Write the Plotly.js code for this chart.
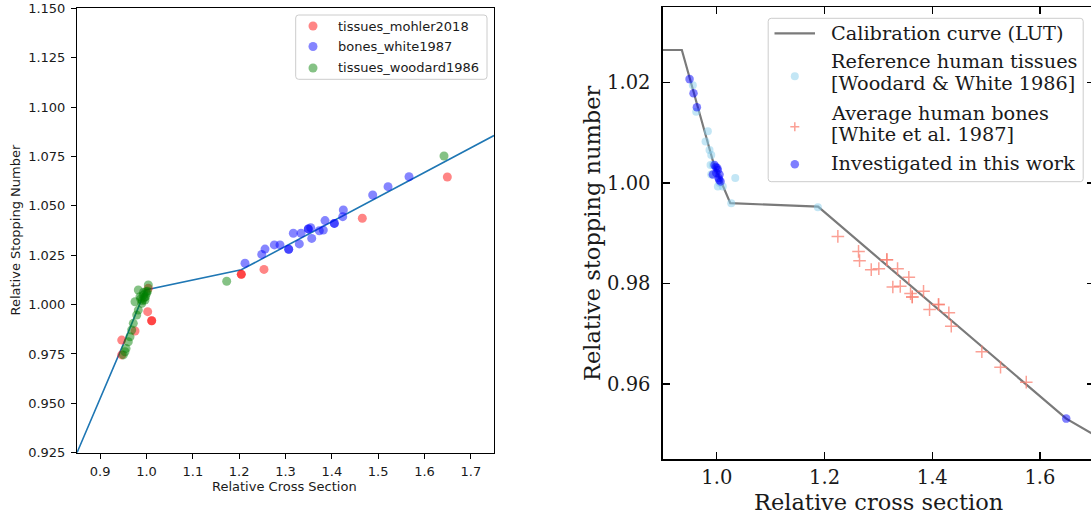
<!DOCTYPE html>
<html>
<head>
<meta charset="utf-8">
<script src="https://cdn.plot.ly/plotly-3.0.1.min.js"></script>
<style>
html,body{margin:0;padding:0;overflow:hidden;background:#fff;}
#chart{width:1096px;height:519px;}
</style>
</head>
<body>
<div id="chart"></div>
<script>
// ---------- Left panel data ----------
const leftCurveX = [0.85, 0.95, 0.998, 1.2046, 1.75];
const leftCurveY = [0.925, 0.980, 1.0074, 1.0176, 1.0856];

const mohlerX = [0.9465, 0.9465, 0.9752, 1.0026, 1.0112, 1.0112, 1.0039, 1.2046, 1.2046, 1.2536, 1.4658, 1.6493];
const mohlerY = [0.9820, 0.9745, 0.9866, 0.9964, 0.9918, 0.9918, 1.0082, 1.0153, 1.0153, 1.0178, 1.0437, 1.0646];

const whiteX = [1.2126, 1.2487, 1.2558, 1.2759, 1.2882, 1.3069, 1.3069, 1.3169, 1.3298, 1.3335, 1.3492, 1.3492, 1.3544, 1.3566, 1.3730, 1.3816, 1.3853, 1.4054, 1.4054, 1.4235, 1.4248, 1.4882, 1.5213, 1.5666];
const whiteY = [1.0209, 1.0254, 1.0281, 1.0302, 1.0302, 1.0280, 1.0280, 1.0361, 1.0307, 1.0361, 1.0383, 1.0383, 1.0389, 1.0335, 1.0374, 1.0377, 1.0425, 1.0411, 1.0411, 1.0445, 1.0479, 1.0555, 1.0597, 1.0647];

const woodardX = [1.0039, 0.9823, 0.9752, 0.9860, 0.9931, 0.9896, 0.9967, 1.0004, 0.9990, 0.9950, 0.9910, 0.9875, 0.9980, 1.0020, 0.9935, 0.9823, 0.9789, 0.9715, 0.9680, 0.9644, 0.9607, 0.9558, 0.9536, 0.9499, 1.1731, 1.6421];
const woodardY = [1.0099, 1.0074, 1.0014, 1.0040, 1.0048, 1.0006, 1.0023, 1.0057, 1.0065, 1.0035, 1.0020, 1.0028, 1.0040, 1.0068, 1.0062, 0.9972, 0.9947, 0.9905, 0.9871, 0.9837, 0.9812, 0.9778, 0.9761, 0.9745, 1.0118, 1.0752];

const leftXTicks = [0.9, 1.0, 1.1, 1.2, 1.3, 1.4, 1.5, 1.6, 1.7];
const leftYTicks = [0.925, 0.950, 0.975, 1.000, 1.025, 1.050, 1.075, 1.100, 1.125, 1.150];
const leftLegendNames = ['tissues_mohler2018', 'bones_white1987', 'tissues_woodard1986'];

// ---------- Right panel data ----------
const lutX = [0.90, 0.935, 0.995, 1.025, 1.188, 1.6488, 1.70];
const lutY = [1.0265, 1.0265, 1.0035, 0.9960, 0.9953, 0.9531, 0.9499];

const refTissueX = [0.9554, 0.9617, 0.9833, 0.9790, 0.9864, 0.9896, 0.9883, 0.9926, 0.9896, 1.0050, 1.0110, 1.0019, 1.0342, 1.0267, 1.1876];
const refTissueY = [1.0195, 1.0142, 1.0103, 1.0083, 1.0066, 1.0056, 1.0036, 1.0036, 1.0017, 1.0000, 0.9993, 0.9993, 1.0010, 0.9960, 0.9952];

const boneX = [1.2247, 1.2631, 1.2650, 1.2867, 1.3008, 1.3157, 1.3157, 1.3356, 1.3565, 1.3268, 1.3406, 1.3597, 1.3629, 1.3629, 1.3838, 1.4117, 1.4117, 1.3950, 1.4308, 1.4353, 1.4921, 1.5268, 1.5746];
const boneY = [0.98938, 0.98640, 0.98455, 0.98276, 0.98296, 0.98475, 0.98475, 0.98296, 0.98123, 0.97932, 0.97944, 0.97799, 0.97734, 0.97734, 0.97845, 0.97581, 0.97581, 0.97481, 0.97416, 0.97149, 0.96640, 0.96334, 0.96036];

const thisWorkX = [0.9493, 0.9567, 0.9629, 0.9957, 0.9989, 1.0032, 1.0069, 1.0007, 0.9926, 1.0050, 1.0019, 0.9980, 1.0045, 1.6488];
const thisWorkY = [1.0207, 1.0179, 1.0151, 1.0036, 1.0020, 1.0010, 1.0003, 1.0030, 1.0017, 1.0017, 1.0026, 1.0032, 1.0006, 0.9531];

const rightXTicks = [1.0, 1.2, 1.4, 1.6];
const rightYTicks = [0.96, 0.98, 1.00, 1.02];
const rightLegendLines = ['Calibration curve (LUT)', 'Reference human tissues', '[Woodard &amp; White 1986]',
                          'Average human bones', '[White et al. 1987]', 'Investigated in this work'];

// ---------- layout helpers (pixel -> paper) ----------
const W = 1096, H = 519;
const px = v => v / W;
const py = v => 1 - v / H;

const sans = "DejaVu Sans, sans-serif";
const serif = "DejaVu Serif, serif";

const cRed = 'rgba(255,0,0,0.48)', cBlue = 'rgba(0,0,255,0.48)', cGreen = 'rgba(0,128,0,0.48)';
const cSky = 'rgba(135,206,235,0.5)', cSalmon = 'rgba(250,128,114,0.75)', cBlue2 = 'rgba(0,0,255,0.5)';

const traces = [
  {x: leftCurveX, y: leftCurveY, type: 'scatter', mode: 'lines', xaxis: 'x', yaxis: 'y',
   line: {color: '#1f77b4', width: 1.6}, name: 'curve'},
  {x: mohlerX, y: mohlerY, type: 'scatter', mode: 'markers', name: leftLegendNames[0], xaxis: 'x', yaxis: 'y',
   marker: {color: cRed, size: 9, line: {width: 0}}},
  {x: whiteX, y: whiteY, type: 'scatter', mode: 'markers', name: leftLegendNames[1], xaxis: 'x', yaxis: 'y',
   marker: {color: cBlue, size: 9, line: {width: 0}}},
  {x: woodardX, y: woodardY, type: 'scatter', mode: 'markers', name: leftLegendNames[2], xaxis: 'x', yaxis: 'y',
   marker: {color: cGreen, size: 9, line: {width: 0}}},

  {x: lutX, y: lutY, type: 'scatter', mode: 'lines', name: 'Calibration curve (LUT)', xaxis: 'x2', yaxis: 'y2',
   line: {color: '#7a7a7a', width: 2.2}},
  {x: refTissueX, y: refTissueY, type: 'scatter', mode: 'markers', name: 'Reference human tissues', xaxis: 'x2', yaxis: 'y2',
   marker: {color: cSky, size: 8, line: {width: 0}}},
  {x: boneX, y: boneY, type: 'scatter', mode: 'markers', name: 'Average human bones', xaxis: 'x2', yaxis: 'y2',
   marker: {symbol: 'cross-thin', color: cSalmon, size: 9, line: {color: cSalmon, width: 1.5}}},
  {x: thisWorkX, y: thisWorkY, type: 'scatter', mode: 'markers', name: 'Investigated in this work', xaxis: 'x2', yaxis: 'y2',
   marker: {color: cBlue2, size: 8.5, line: {width: 0}}}
];

const leftAxis = {
  showgrid: false, zeroline: false, showline: true, linecolor: '#000', linewidth: 1, mirror: true,
  ticks: 'outside', ticklen: 5, tickwidth: 1, tickcolor: '#000',
  tickfont: {family: sans, size: 13, color: '#1a1a1a'}
};
const rightAxis = {
  showgrid: false, zeroline: false, showline: true, linecolor: '#000', linewidth: 1.6, mirror: 'ticks',
  ticks: 'inside', ticklen: 7, tickwidth: 1.3, tickcolor: '#000',
  tickfont: {family: serif, size: 19.5, color: '#1a1a1a'}
};

// ---------- legend drawing (in pixel space converted to paper) ----------
function roundRect(x0, y0, x1, y1, r) {
  const P = (a, b) => px(a) + ',' + py(b);
  return 'M' + P(x0 + r, y0) + ' L' + P(x1 - r, y0) + ' Q' + P(x1, y0) + ' ' + P(x1, y0 + r) +
    ' L' + P(x1, y1 - r) + ' Q' + P(x1, y1) + ' ' + P(x1 - r, y1) +
    ' L' + P(x0 + r, y1) + ' Q' + P(x0, y1) + ' ' + P(x0, y1 - r) +
    ' L' + P(x0, y0 + r) + ' Q' + P(x0, y0) + ' ' + P(x0 + r, y0) + ' Z';
}
function dot(cx, cy, d, color) {
  return {type: 'circle', xref: 'paper', yref: 'paper', layer: 'above',
    x0: px(cx - d / 2), x1: px(cx + d / 2), y0: py(cy + d / 2), y1: py(cy - d / 2),
    fillcolor: color, line: {width: 0}};
}
function plus(cx, cy, s, color) {
  const P = (a, b) => px(a) + ',' + py(b);
  return {type: 'path', xref: 'paper', yref: 'paper', layer: 'above',
    path: 'M' + P(cx - s, cy) + ' L' + P(cx + s, cy) + ' M' + P(cx, cy - s) + ' L' + P(cx, cy + s),
    line: {color: color, width: 1.5}};
}
function label(text, x, y, font) {
  return {text: text, xref: 'paper', yref: 'paper', x: px(x), y: py(y), xanchor: 'left', yanchor: 'middle',
    showarrow: false, font: font};
}

const leftFont = {family: sans, size: 13, color: '#1a1a1a'};
const rightLegFont = {family: serif, size: 19.3, color: '#1a1a1a'};

const shapes = [
  {type: 'path', xref: 'paper', yref: 'paper', layer: 'above', path: roundRect(295.7, 15, 487, 79.3, 3),
   fillcolor: 'rgba(255,255,255,0.8)', line: {color: '#cccccc', width: 1}},
  dot(313, 26, 9, cRed), dot(313, 46.5, 9, cBlue), dot(313, 68, 9, cGreen),

  {type: 'path', xref: 'paper', yref: 'paper', layer: 'above', path: roundRect(768.2, 18.3, 1083.2, 181.7, 3),
   fillcolor: 'rgba(255,255,255,0.8)', line: {color: '#cccccc', width: 1}},
  {type: 'line', xref: 'paper', yref: 'paper', layer: 'above', x0: px(774.5), x1: px(815), y0: py(33.3), y1: py(33.3),
   line: {color: '#7a7a7a', width: 2.2}},
  dot(794.8, 76.3, 8, cSky), plus(794.8, 126.7, 4.5, cSalmon), dot(794.8, 164.3, 8.5, cBlue2)
];

const annotations = [
  {text: 'Relative Cross Section', xref: 'paper', yref: 'paper', x: px(284), y: py(486.7),
   xanchor: 'center', yanchor: 'middle', showarrow: false, font: leftFont},
  {text: 'Relative Stopping Number', xref: 'paper', yref: 'paper', x: px(15), y: py(230.5),
   xanchor: 'center', yanchor: 'middle', showarrow: false, textangle: -90, font: leftFont},
  {text: 'Relative cross section', xref: 'paper', yref: 'paper', x: px(878.3), y: py(501.7),
   xanchor: 'center', yanchor: 'middle', showarrow: false, font: {family: serif, size: 22.5, color: '#1a1a1a'}},
  {text: 'Relative stopping number', xref: 'paper', yref: 'paper', x: px(592.7), y: py(233.3),
   xanchor: 'center', yanchor: 'middle', showarrow: false, textangle: -90, font: {family: serif, size: 22.5, color: '#1a1a1a'}},

  label(leftLegendNames[0], 336, 26, leftFont),
  label(leftLegendNames[1], 336, 46.5, leftFont),
  label(leftLegendNames[2], 336, 68, leftFont),

  label(rightLegendLines[0], 829, 33.3, rightLegFont),
  label(rightLegendLines[1], 829, 62, rightLegFont),
  label(rightLegendLines[2], 829, 83.3, rightLegFont),
  label(rightLegendLines[3], 829, 113.3, rightLegFont),
  label(rightLegendLines[4], 829, 135, rightLegFont),
  label(rightLegendLines[5], 829, 163.3, rightLegFont)
];

const layout = {
  width: W, height: H,
  margin: {l: 0, r: 0, t: 0, b: 0},
  paper_bgcolor: '#fff', plot_bgcolor: '#fff',
  showlegend: false,
  xaxis: Object.assign({}, leftAxis, {
    domain: [px(77), px(494)], range: [0.85, 1.75], anchor: 'y',
    tickvals: leftXTicks, ticktext: leftXTicks.map(v => v.toFixed(1)), ticklabelstandoff: 2
  }),
  yaxis: Object.assign({}, leftAxis, {
    domain: [py(452.7), py(8.3)], range: [0.925, 1.15], anchor: 'x',
    tickvals: leftYTicks, ticktext: leftYTicks.map(v => v.toFixed(3)), ticklabelstandoff: 3
  }),
  xaxis2: Object.assign({}, rightAxis, {
    domain: [px(663), px(1093.8)], range: [0.9, 1.7], anchor: 'y2',
    tickvals: rightXTicks, ticktext: rightXTicks.map(v => v.toFixed(1)), ticklabelstandoff: 0
  }),
  yaxis2: Object.assign({}, rightAxis, {
    domain: [py(459.3), py(7.3)], range: [0.945, 1.035], anchor: 'x2',
    tickvals: rightYTicks, ticktext: rightYTicks.map(v => v.toFixed(2)), ticklabelstandoff: 7
  }),
  shapes: shapes,
  annotations: annotations
};

Plotly.newPlot('chart', traces, layout, {displayModeBar: false, staticPlot: true});
</script>
</body>
</html>
